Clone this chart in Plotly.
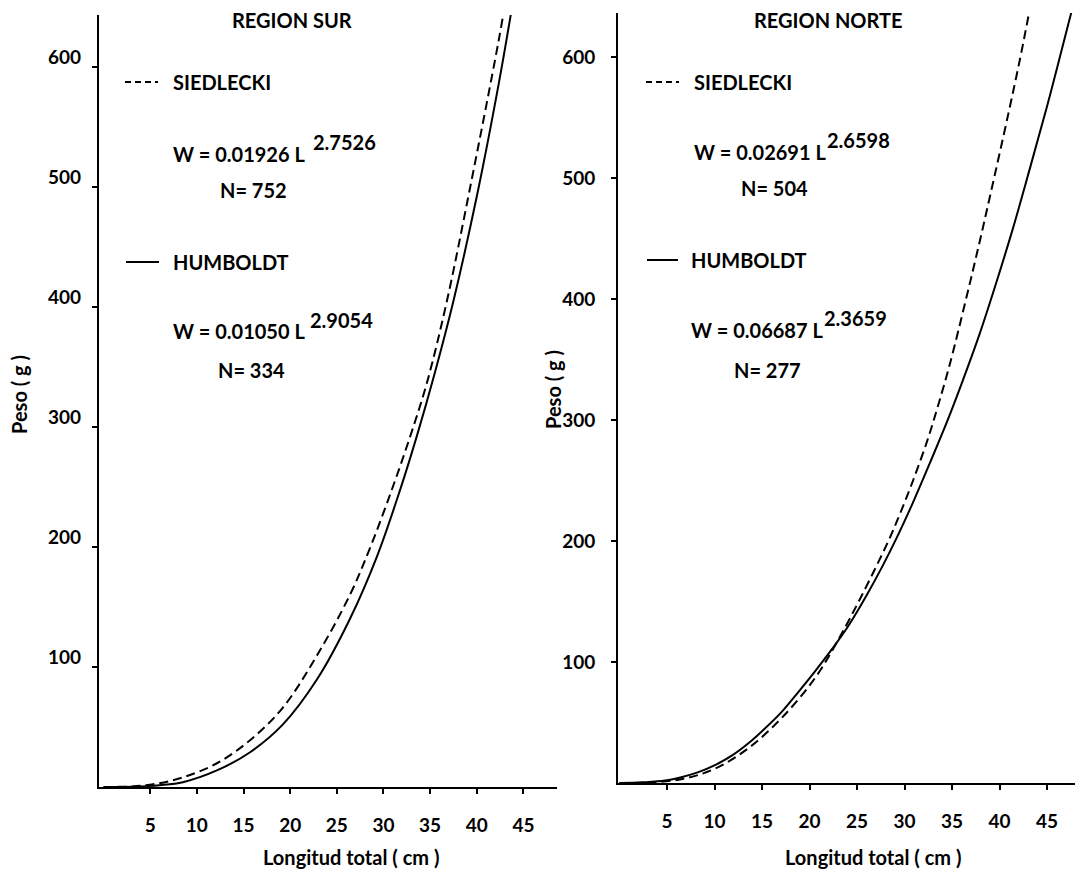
import plotly.graph_objects as go

# ---- data (L = Longitud total cm, W = Peso g) ----
sur_siedlecki_L = [0, 3, 5.5, 8.5, 12.2, 15.7, 19.2, 22.9, 26.4, 28.6, 31.0, 32.9, 34.7, 36.8, 39.3, 42.3, 43.2]
sur_siedlecki_W = [0, 0.5, 2.5, 8, 20, 39, 66, 110, 160, 200, 250, 293, 338, 405, 500, 620, 660]

sur_humboldt_L = [0, 4, 6, 8.5, 12.2, 15.7, 19.2, 22.9, 26.4, 29.3, 31.8, 33.6, 35.5, 37.5, 40.0, 42.4, 44.0]
sur_humboldt_W = [0, 0.5, 1.5, 4, 14, 29, 52, 90, 140, 192, 248, 293, 345, 405, 492, 588, 660]

norte_siedlecki_L = [0, 3, 6.6, 10.1, 13.6, 17.1, 20.6, 23.0, 25.5, 28.3, 29.5, 30.9, 32.4, 33.5, 34.8, 36.6, 37.9, 39.0, 40.9, 42.2, 43.1, 43.6]
norte_siedlecki_W = [0, 0.4, 3.3, 12, 29, 54, 87, 118, 155, 200, 222, 250, 283, 311, 347, 404, 447, 485, 552, 600, 636, 656]

norte_humboldt_L = [0, 2.5, 4.8, 6.6, 8.3, 10.1, 11.9, 13.6, 15.3, 17.1, 18.8, 20.6, 22.4, 24.1, 26.0, 27.6, 29.2, 30.9, 32.7, 34.5, 36.2, 37.9, 39.6, 41.4, 43.2, 45.3, 47.4, 48.2]
norte_humboldt_W = [0, 0.6, 2, 5, 9, 15, 23, 33, 45, 59, 75, 92.5, 111, 130, 155, 178, 203, 232, 265, 299, 334, 371, 412, 458, 508, 568, 632, 656]

x_ticks = [5, 10, 15, 20, 25, 30, 35, 40, 45]
y_ticks = [100, 200, 300, 400, 500, 600]

panel_titles = ["REGION SUR", "REGION NORTE"]
eq_sur = [("W = 0.01926 L", "2.7526", "N= 752"), ("W = 0.01050 L", "2.9054", "N= 334")]
eq_norte = [("W = 0.02691 L", "2.6598", "N= 504"), ("W = 0.06687 L", "2.3659", "N= 277")]

# ---- layout helpers (page body has an 8px margin) ----
OFF = 8
FW, FH = 1075, 866
def px(x):
    return (x - OFF) / FW
def py(y):
    return 1 - (y - OFF) / FH

FONT = "Lato"
FS = 20
fig = go.Figure()

DASH = "9px,5px"
fig.add_trace(go.Scatter(x=sur_siedlecki_L, y=sur_siedlecki_W, mode="lines", line_shape="spline",
                         line=dict(color="black", width=2, dash=DASH), xaxis="x", yaxis="y", showlegend=False))
fig.add_trace(go.Scatter(x=sur_humboldt_L, y=sur_humboldt_W, mode="lines", line_shape="spline",
                         line=dict(color="black", width=2), xaxis="x", yaxis="y", showlegend=False))
fig.add_trace(go.Scatter(x=norte_siedlecki_L, y=norte_siedlecki_W, mode="lines", line_shape="spline",
                         line=dict(color="black", width=2, dash=DASH), xaxis="x2", yaxis="y2", showlegend=False))
fig.add_trace(go.Scatter(x=norte_humboldt_L, y=norte_humboldt_W, mode="lines", line_shape="spline",
                         line=dict(color="black", width=2), xaxis="x2", yaxis="y2", showlegend=False))

tickfont = dict(family=FONT, size=19, color="black", weight="bold")
axis_common = dict(showline=True, linecolor="black", linewidth=2, showgrid=False, zeroline=False,
                   ticks="outside", ticklen=5, tickwidth=2, tickcolor="black", tickfont=tickfont)

fig.update_layout(
    width=FW, height=FH,
    margin=dict(l=0, r=0, t=0, b=0),
    paper_bgcolor="white", plot_bgcolor="white",
    xaxis=dict(domain=[px(99), px(557)], range=[-0.49, 48.6], tickvals=x_ticks,
               anchor="y", ticklabelstandoff=15, **axis_common),
    yaxis=dict(domain=[py(787), py(15)], range=[0, 643.3], tickvals=y_ticks,
               anchor="x", showticklabels=False, **axis_common),
    xaxis2=dict(domain=[px(618), 1.0], range=[-0.16, 48.79], tickvals=x_ticks,
                anchor="y2", ticklabelstandoff=15, **axis_common),
    yaxis2=dict(domain=[py(783), py(13)], range=[0, 636.4], tickvals=y_ticks,
                anchor="x2", ticklabelstandoff=12, **axis_common),
)

# left-panel y tick labels sit a little above their ticks in the original
for v in y_ticks:
    fig.add_annotation(x=px(83), y=v, xref="paper", yref="y", text=str(v), showarrow=False,
                       xanchor="right", yanchor="middle", yshift=10,
                       font=dict(family=FONT, size=19, color="black", weight="bold"))

def txt(x, y, s, size=FS, xanchor="left", angle=0):
    fig.add_annotation(x=px(x), y=py(y), xref="paper", yref="paper", text=s, showarrow=False,
                       xanchor=xanchor, yanchor="middle", textangle=angle,
                       font=dict(family=FONT, size=size, color="black", weight="bold"))

# titles
txt(292, 20, panel_titles[0], xanchor="center")
txt(828, 20, panel_titles[1], xanchor="center")
# axis titles
txt(351, 857, "Longitud total ( cm )", xanchor="center")
txt(873, 857, "Longitud total ( cm )", xanchor="center")
txt(19, 395, "Peso ( g )", xanchor="center", angle=-90)
txt(553, 390, "Peso ( g )", xanchor="center", angle=-90)

# legend-like labels, left panel
txt(171, 82, "SIEDLECKI")
txt(171, 262, "HUMBOLDT")
txt(171, 154, eq_sur[0][0]); txt(311, 142, eq_sur[0][1])
txt(218, 190, eq_sur[0][2])
txt(171, 331, eq_sur[1][0]); txt(308, 320, eq_sur[1][1])
txt(216, 370, eq_sur[1][2])
# right panel
txt(692, 82, "SIEDLECKI")
txt(689, 260, "HUMBOLDT")
txt(692, 152, eq_norte[0][0]); txt(825, 140, eq_norte[0][1])
txt(739, 188, eq_norte[0][2])
txt(689, 330, eq_norte[1][0]); txt(822, 318, eq_norte[1][1])
txt(732, 370, eq_norte[1][2])

# legend line samples
for (x0, x1, y, dash) in [(125, 158, 82, "6px,4px"), (126, 159, 262, "solid"),
                          (646, 679, 82, "6px,4px"), (647, 678, 260, "solid")]:
    fig.add_shape(type="line", xref="paper", yref="paper", x0=px(x0), x1=px(x1), y0=py(y), y1=py(y),
                  line=dict(color="black", width=2, dash=dash))

fig.write_html("out.html")
